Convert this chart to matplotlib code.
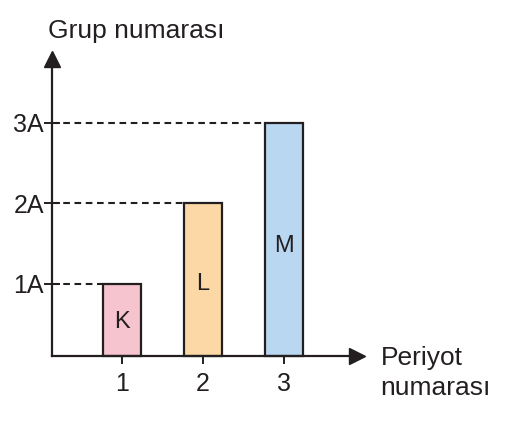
import numpy as np
import matplotlib
matplotlib.use("Agg")
import matplotlib.pyplot as plt

plt.rcParams['font.family'] = ['Liberation Sans', 'DejaVu Sans']

# data
periods = [1, 2, 3]
groups = [1, 2, 3]
letters = ['K', 'L', 'M']
ytick_labels = ['1A', '2A', '3A']
colors = ['#f5c4cf', '#fcd8a6', '#b9d7f1']

ink = '#231f20'
base = 0.106   # height where the x axis sits
x0 = 0.13      # where the y axis sits

fig = plt.figure(figsize=(5.21, 4.23), dpi=100)
ax = fig.add_axes([0, 0, 1, 1])
ax.set_xlim(-0.506, 5.926)
ax.set_ylim(-0.730, 4.525)

vals = np.array(groups, dtype=float)
ax.bar(periods, vals - base, bottom=base, width=0.48, color=colors,
       edgecolor=ink, linewidth=1.6, zorder=2)

# dashed guides from y axis to bars
for p, v in zip(periods, vals):
    ax.plot([x0, p - 0.24], [v, v], color=ink, lw=1.5, ls=(0, (3.2, 2.2)), zorder=1)

# letters inside the bars
for p, v, t in zip(periods, vals, letters):
    ax.text(p, base + (v - base) * 0.47, t, ha='center', va='center',
            fontsize=17, color=ink, zorder=3)

# axes
for s in ['top', 'right']:
    ax.spines[s].set_visible(False)
ax.spines['left'].set_position(('data', x0))
ax.spines['bottom'].set_position(('data', base))
ax.spines['left'].set_bounds(base, 3.8)
ax.spines['bottom'].set_bounds(x0, 3.85)
for s in ['left', 'bottom']:
    ax.spines[s].set_linewidth(1.6)
    ax.spines[s].set_color(ink)
    ax.spines[s].set_zorder(4)

ax.plot(3.9, base, marker='>', ms=11, color=ink, clip_on=False, zorder=5)
ax.plot(x0, 3.79, marker='^', ms=11, color=ink, clip_on=False, zorder=5)

ax.set_xticks(periods)
ax.set_xticklabels([str(p) for p in periods])
ax.set_yticks(groups)
ax.set_yticklabels(ytick_labels)
ax.tick_params(direction='inout', length=11, width=1.4, color=ink,
               labelsize=18, labelcolor=ink)
ax.tick_params(axis='x', pad=6)
ax.tick_params(axis='y', pad=0)

ax.text(0.086, 4.056, 'Grup numarası', fontsize=19, color=ink, va='baseline', ha='left')
ax.text(4.19, -0.009, 'Periyot', fontsize=19, color=ink, va='baseline', ha='left')
ax.text(4.19, -0.382, 'numarası', fontsize=19, color=ink, va='baseline', ha='left')

fig.savefig('out.png', dpi=100)
